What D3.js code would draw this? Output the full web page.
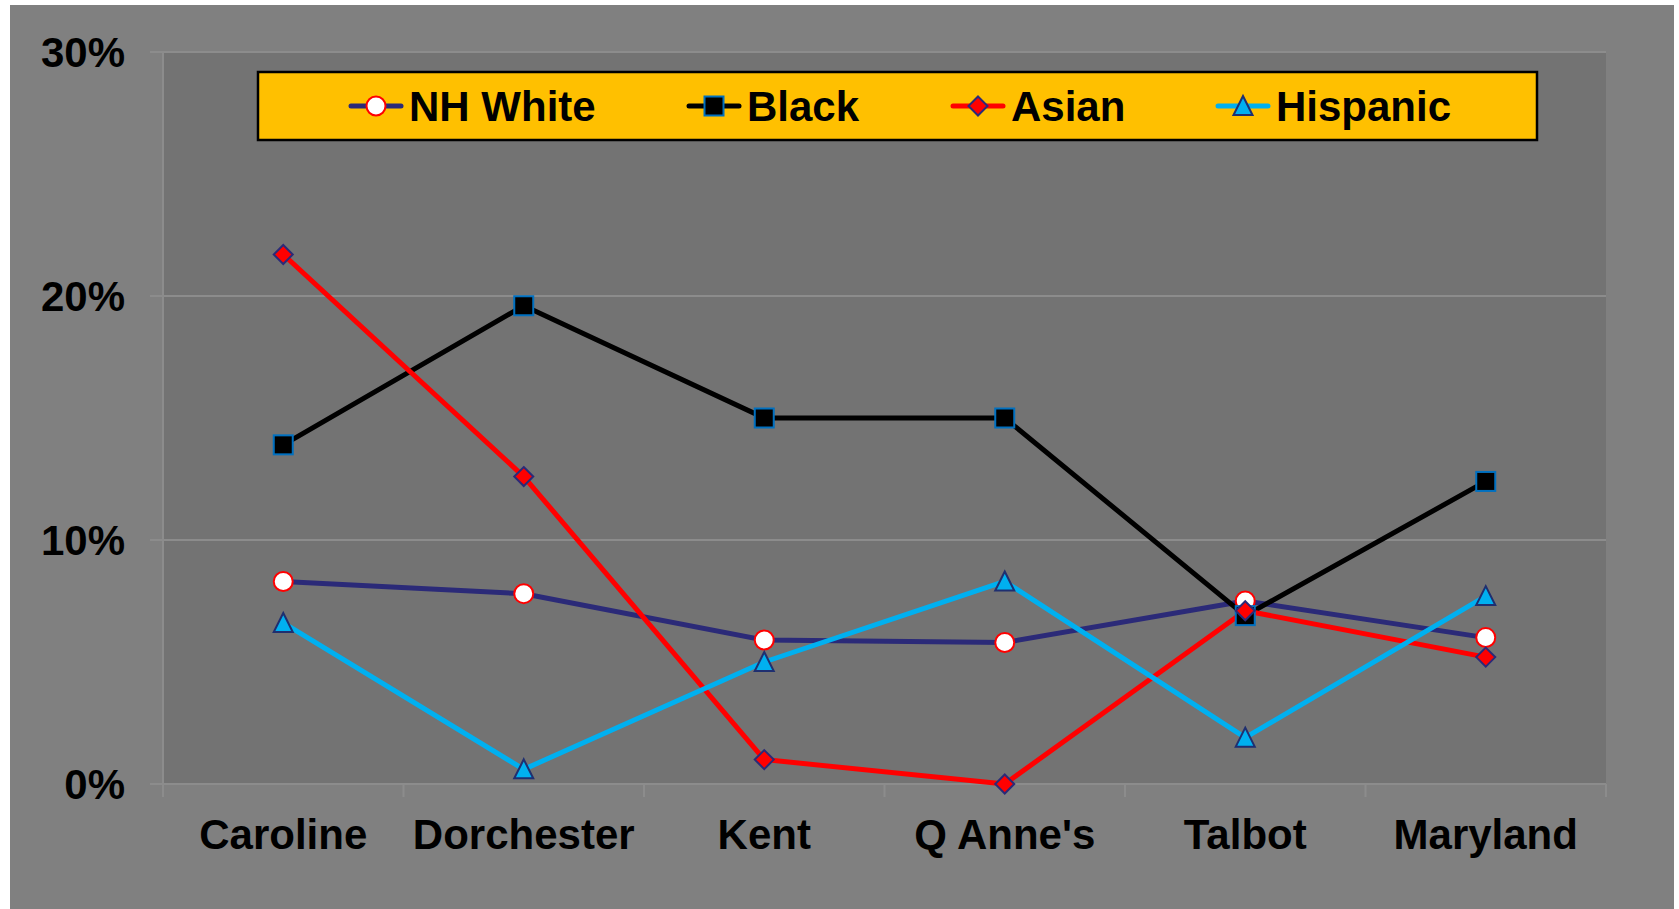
<!DOCTYPE html>
<html>
<head>
<meta charset="utf-8">
<script src="https://cdn.jsdelivr.net/npm/d3@7"></script>
<style>
  html, body { margin: 0; padding: 0; background: #ffffff; }
  svg { display: block; }
  text { font-family: "Liberation Sans", Arial, sans-serif; font-weight: bold; fill: #000; }
</style>
</head>
<body>
<svg id="chart" width="1679" height="909"></svg>
<script>
// Counties and the state total
const categories = ["Caroline", "Dorchester", "Kent", "Q Anne's", "Talbot", "Maryland"];

// Percentage values per group
const nhWhite  = [8.3, 7.8, 5.9, 5.8, 7.5, 6.0];
const black    = [13.9, 19.6, 15.0, 15.0, 6.9, 12.4];
const asian    = [21.7, 12.6, 1.0, 0.0, 7.1, 5.2];
const hispanic = [6.6, 0.6, 5.0, 8.3, 1.9, 7.7];

const yTicks = [0, 10, 20, 30];

const seriesNames = ["NH White", "Black", "Asian", "Hispanic"];

const styles = {
  "NH White": { line: "#2B2A78", marker: "circle",   fill: "#ffffff", stroke: "#ff0000" },
  "Black":    { line: "#000000", marker: "square",   fill: "#000000", stroke: "#0070C0" },
  "Asian":    { line: "#ff0000", marker: "diamond",  fill: "#ff0000", stroke: "#2B2A78" },
  "Hispanic": { line: "#00B0F0", marker: "triangle", fill: "#00B0F0", stroke: "#1F2F70" }
};

const series = [
  { name: "NH White", values: nhWhite },
  { name: "Black",    values: black },
  { name: "Asian",    values: asian },
  { name: "Hispanic", values: hispanic }
];

const svg = d3.select("#chart");

const plot = { left: 163, right: 1606, top: 52, bottom: 784 };

// Outer chart background
svg.append("rect")
  .attr("x", 10).attr("y", 5)
  .attr("width", 1664).attr("height", 904)
  .attr("fill", "#808080");

// Plot area
svg.append("rect")
  .attr("x", plot.left).attr("y", plot.top)
  .attr("width", plot.right - plot.left).attr("height", plot.bottom - plot.top)
  .attr("fill", "#737373");

const x = d3.scaleBand().domain(categories).range([plot.left, plot.right]).padding(0);
const y = d3.scaleLinear().domain([0, 30]).range([plot.bottom, plot.top]);
const cx = c => x(c) + x.bandwidth() / 2;

// Horizontal gridlines with left tick marks
svg.append("g")
  .selectAll("line")
  .data(yTicks)
  .join("line")
  .attr("x1", plot.left - 13).attr("x2", plot.right)
  .attr("y1", d => y(d)).attr("y2", d => y(d))
  .attr("stroke", "#8c8c8c").attr("stroke-width", 2);

// Vertical axis line
svg.append("line")
  .attr("x1", plot.left).attr("x2", plot.left)
  .attr("y1", plot.top).attr("y2", plot.bottom + 13)
  .attr("stroke", "#8c8c8c").attr("stroke-width", 2);

// Category boundary tick marks
const edges = categories.map(c => x(c)).concat([plot.right]);
svg.append("g")
  .selectAll("line")
  .data(edges)
  .join("line")
  .attr("x1", d => d).attr("x2", d => d)
  .attr("y1", plot.bottom).attr("y2", plot.bottom + 13)
  .attr("stroke", "#8c8c8c").attr("stroke-width", 2);

// Y tick labels
svg.append("g")
  .selectAll("text")
  .data(yTicks)
  .join("text")
  .attr("x", 125)
  .attr("y", d => y(d) + 15)
  .attr("text-anchor", "end")
  .attr("font-size", 42)
  .text(d => d + "%");

// X category labels
svg.append("g")
  .selectAll("text")
  .data(categories)
  .join("text")
  .attr("x", d => cx(d))
  .attr("y", 849)
  .attr("text-anchor", "middle")
  .attr("font-size", 42)
  .text(d => d);

// Marker shapes
function drawMarker(g, type, px, py, st) {
  const s = 9.5;
  if (type === "circle") {
    g.append("circle").attr("cx", px).attr("cy", py).attr("r", s)
      .attr("fill", st.fill).attr("stroke", st.stroke).attr("stroke-width", 2);
  } else if (type === "square") {
    g.append("rect").attr("x", px - s).attr("y", py - s).attr("width", 2 * s).attr("height", 2 * s)
      .attr("fill", st.fill).attr("stroke", st.stroke).attr("stroke-width", 2);
  } else if (type === "diamond") {
    g.append("path")
      .attr("d", `M${px},${py - s}L${px + s},${py}L${px},${py + s}L${px - s},${py}Z`)
      .attr("fill", st.fill).attr("stroke", st.stroke).attr("stroke-width", 2);
  } else if (type === "triangle") {
    g.append("path")
      .attr("d", `M${px},${py - 10}L${px + 9.5},${py + 9}L${px - 9.5},${py + 9}Z`)
      .attr("fill", st.fill).attr("stroke", st.stroke).attr("stroke-width", 2)
      .attr("stroke-linejoin", "miter");
  }
}

const line = d3.line().x((d, i) => cx(categories[i])).y(d => y(d));

// Series lines
svg.append("g")
  .selectAll("path")
  .data(series)
  .join("path")
  .attr("d", d => line(d.values))
  .attr("fill", "none")
  .attr("stroke", d => styles[d.name].line)
  .attr("stroke-width", 5)
  .attr("stroke-linejoin", "round");

// Series markers
const markerLayer = svg.append("g");
series.forEach(s => {
  const st = styles[s.name];
  s.values.forEach((v, i) => drawMarker(markerLayer, st.marker, cx(categories[i]), y(v), st));
});

// Legend
const legend = svg.append("g");
legend.append("rect")
  .attr("x", 258).attr("y", 72)
  .attr("width", 1279).attr("height", 68)
  .attr("fill", "#FFC000").attr("stroke", "#000").attr("stroke-width", 2.5);

const legendX = [376, 714, 978, 1243];
const legendY = 106;
seriesNames.forEach((name, i) => {
  const st = styles[name];
  const mx = legendX[i];
  legend.append("line")
    .attr("x1", mx - 25).attr("x2", mx + 25)
    .attr("y1", legendY).attr("y2", legendY)
    .attr("stroke", st.line).attr("stroke-width", 5).attr("stroke-linecap", "round");
  drawMarker(legend, st.marker, mx, legendY, st);
  legend.append("text")
    .attr("x", mx + 33).attr("y", legendY + 15)
    .attr("font-size", 42)
    .text(name);
});
</script>
</body>
</html>
